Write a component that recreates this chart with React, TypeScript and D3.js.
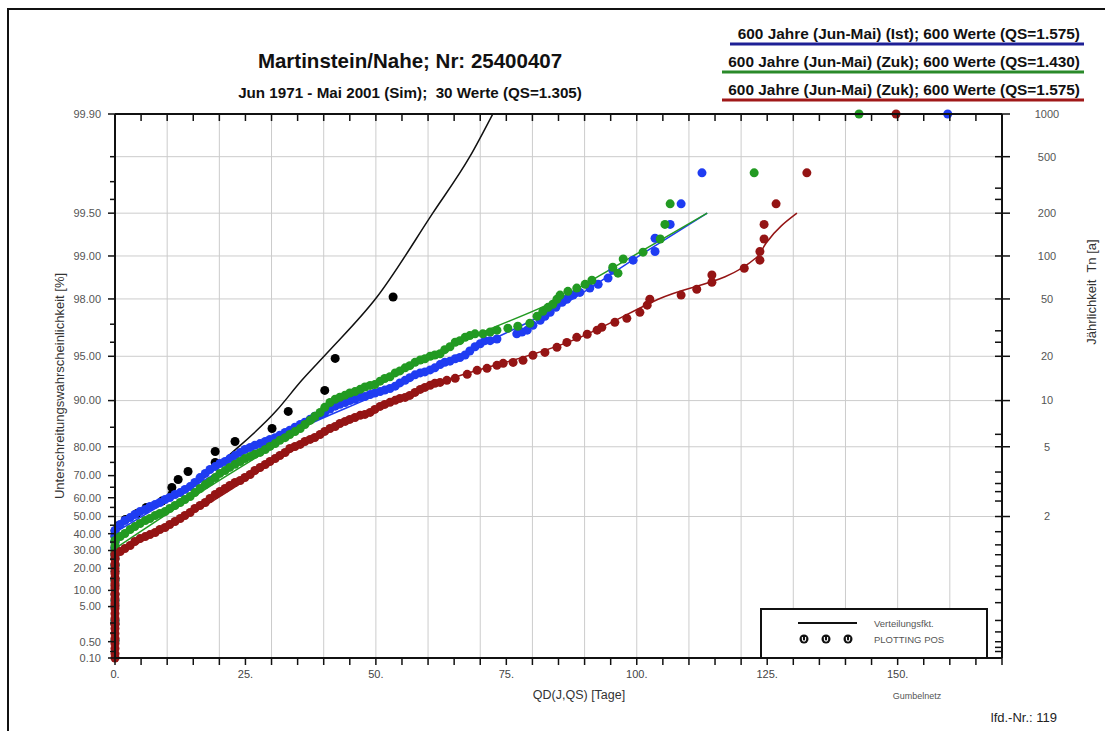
import React from "react";
import * as d3 from "d3";

// ---------------- data ----------------
const X_LABEL_TICKS = [0, 25, 50, 75, 100, 125, 150];
const LEFT_MAJOR_PCT = [99.9, 99.5, 99, 98, 95, 90, 80, 70, 60, 50, 40, 30, 20, 10, 5, 0.5, 0.1];
const LEFT_MINOR_PCT = [99.8, 99.7, 99.6, 97, 96, 85, 75, 65, 55, 45, 35, 25, 15, 2, 1, 0.2];
const RIGHT_MAJOR_T = [1000, 500, 200, 100, 50, 20, 10, 5, 2];
const RIGHT_MINOR_T = [300, 250, 30, 25, 6, 3.5, 3, 2.7, 2.4, 1.7, 1.5, 1.38, 1.27, 1.19, 1.115, 1.064, 1.024, 1.011, 1.005, 1.003, 1.002];
const GRID_T = [500, 200, 100, 50, 20, 10, 5, 2];

const TITLE = "Martinstein/Nahe; Nr: 25400407";
const SUBTITLE = "Jun 1971 - Mai 2001 (Sim);  30 Werte (QS=1.305)";
const SERIES_LABELS = [
  "600 Jahre (Jun-Mai) (Ist); 600 Werte (QS=1.575)",
  "600 Jahre (Jun-Mai) (Zuk); 600 Werte (QS=1.430)",
  "600 Jahre (Jun-Mai) (Zuk); 600 Werte (QS=1.575)",
];
const SERIES_COLORS = ["#1f3cf2", "#229a22", "#941414"];
const UNDERLINE_COLORS = ["#1e2096", "#2a8a2a", "#a01818"];

// years with QD = 0, given by their plotting position [%]
const BLUE_ZERO_PCT = [0.55, 2.31, 6.6, 14.03, 21.46, 27.06, 31.2, 35.3, 38.9, 41.9];
const GREEN_ZERO_PCT = [0.55, 2.31, 6.6, 14.03, 21.46, 27.06, 30.0, 32.9, 35.9];
const RED_ZERO_PCT = [0.1, 0.16, 0.27, 0.43, 0.66, 0.97, 1.39, 1.93, 2.63, 3.5, 4.54, 5.78, 7.22, 8.85, 10.7, 12.75, 14.96, 17.35, 19.89, 22.55, 25.34, 27.64];

// [QD days, Unterschreitungswahrscheinlichkeit %]
const BLUE_POINTS = [
  [1.0, 45.4], [1.9, 47.7], [2.9, 49.4], [3.8, 51.1], [4.8, 52.8], [5.8, 53.9], [6.7, 55.5], [7.7, 56.6], [8.6, 57.6], [9.6, 59.1],
  [10.5, 60.1], [11.5, 61.6], [12.5, 62.5], [13.4, 64.0], [14.4, 65.3], [15.3, 67.1], [16.3, 69.2], [17.3, 70.9], [18.2, 72.4], [19.2, 73.5],
  [20.1, 74.6], [21.1, 75.3], [22.0, 76.3], [23.0, 77.3], [24.0, 78.3], [24.9, 79.2], [25.9, 79.8], [26.8, 80.4], [27.8, 80.9], [28.8, 81.5],
  [29.7, 82.0], [30.7, 82.5], [31.6, 83.1], [32.6, 83.8], [33.5, 84.3], [34.5, 85.0], [35.5, 85.6], [36.4, 86.1], [37.4, 86.7], [38.3, 87.3],
  [39.3, 87.6], [40.2, 88.0], [41.2, 88.6], [42.2, 89.1], [43.1, 89.4], [44.1, 89.7], [45.0, 90.0], [46.0, 90.2], [47.0, 90.5], [47.9, 90.6],
  [48.9, 90.9], [49.8, 91.1], [50.8, 91.3], [51.7, 91.5], [52.7, 91.7], [53.7, 92.0], [54.6, 92.4], [55.6, 92.7], [56.5, 93.0], [57.5, 93.3],
  [58.5, 93.5], [59.4, 93.6], [60.4, 93.8], [61.3, 94.0], [62.3, 94.3], [63.2, 94.5], [64.2, 94.6], [65.2, 94.8], [66.1, 94.9], [67.1, 95.1],
  [68.0, 95.4], [69.0, 95.7], [70.0, 95.9], [70.9, 96.1], [71.9, 96.1], [73.2, 96.2], [77.0, 96.5], [78.0, 96.6], [79.0, 96.7], [80.1, 96.95],
  [81.5, 97.18], [82.4, 97.36], [83.4, 97.52], [84.5, 97.71], [85.7, 97.89], [86.6, 97.99], [87.8, 98.12], [89.1, 98.2], [91.0, 98.32], [92.6, 98.42],
  [94.5, 98.57], [95.4, 98.74], [99.3, 98.93], [103.5, 99.07], [103.5, 99.25], [106.4, 99.4], [108.5, 99.57], [112.5, 99.74], [159.6, 99.93],
];
const GREEN_POINTS = [
  [1.0, 38.3], [1.9, 40.1], [2.9, 42.5], [3.8, 44.2], [4.8, 46.0], [5.8, 47.7], [6.7, 48.9], [7.7, 50.6], [8.6, 51.7], [9.6, 52.8],
  [10.5, 54.4], [11.5, 56.0], [12.5, 57.6], [13.4, 59.1], [14.4, 60.6], [15.3, 62.5], [16.3, 64.4], [17.3, 66.2], [18.2, 67.5], [19.2, 69.2],
  [20.1, 70.9], [21.1, 72.0], [22.0, 73.2], [23.0, 74.3], [24.0, 75.3], [24.9, 76.3], [25.9, 77.0], [26.8, 77.7], [27.8, 78.3], [28.8, 79.2],
  [29.7, 80.1], [30.7, 80.9], [31.6, 81.8], [32.6, 82.5], [33.5, 83.3], [34.5, 84.0], [35.5, 84.7], [36.4, 85.6], [37.4, 86.5], [38.3, 87.3],
  [39.3, 88.0], [40.2, 88.9], [41.2, 89.7], [42.2, 90.2], [43.1, 90.5], [44.1, 90.8], [45.0, 91.1], [46.0, 91.3], [47.0, 91.6], [47.9, 91.9],
  [48.9, 92.1], [49.8, 92.2], [50.8, 92.6], [51.7, 92.9], [52.7, 93.1], [53.7, 93.5], [54.6, 93.7], [55.6, 94.0], [56.5, 94.2], [57.5, 94.5],
  [58.5, 94.7], [59.4, 94.8], [60.4, 95.0], [61.3, 95.1], [62.3, 95.2], [63.2, 95.5], [64.2, 95.7], [65.2, 96.0], [66.1, 96.1], [67.1, 96.3],
  [68.0, 96.4], [69.0, 96.5], [70.5, 96.5], [71.9, 96.6], [73.2, 96.7], [75.3, 96.8], [77.2, 96.9], [79.5, 97.04], [80.9, 97.36], [82.0, 97.56],
  [83.0, 97.71], [83.9, 97.82], [84.7, 97.99], [85.3, 98.12], [86.8, 98.23], [88.5, 98.32], [90.1, 98.42], [91.4, 98.52], [95.4, 98.8], [96.4, 98.68],
  [97.4, 98.95], [101.2, 99.06], [104.5, 99.24], [105.4, 99.4], [106.4, 99.57], [122.5, 99.74], [142.6, 99.93],
];
const RED_POINTS = [
  [1.0, 29.37], [1.9, 31.14], [2.9, 32.92], [3.8, 35.3], [4.8, 37.09], [5.8, 38.28], [6.7, 39.48], [7.7, 40.69], [8.6, 42.48], [9.6, 43.65],
  [10.5, 45.4], [11.5, 47.13], [12.5, 48.85], [13.4, 50.57], [14.4, 52.23], [15.3, 54.41], [16.3, 56.03], [17.3, 57.58], [18.2, 59.61], [19.2, 61.58],
  [20.1, 63.01], [21.1, 64.41], [22.0, 65.8], [23.0, 67.11], [24.0, 67.98], [24.9, 69.23], [25.9, 70.46], [26.8, 72.04], [27.8, 73.16], [28.8, 74.25],
  [29.7, 75.32], [30.7, 76.34], [31.6, 77.34], [32.6, 78.28], [33.5, 79.5], [34.5, 80.09], [35.5, 80.67], [36.4, 81.49], [37.4, 82.03], [38.3, 82.54],
  [39.3, 83.3], [40.2, 84.04], [41.2, 84.73], [42.2, 85.18], [43.1, 85.83], [44.1, 86.26], [45.0, 86.67], [46.0, 87.06], [47.0, 87.46], [47.9, 87.64],
  [48.9, 88.01], [49.8, 88.55], [50.8, 89.06], [51.7, 89.39], [52.7, 89.72], [53.7, 90.04], [54.6, 90.33], [55.6, 90.48], [56.5, 90.77], [57.5, 91.19],
  [58.5, 91.59], [59.4, 91.85], [60.4, 92.11], [61.3, 92.35], [62.3, 92.46], [63.6, 92.7], [65.2, 92.92], [67.5, 93.35], [69.4, 93.76], [71.3, 93.95],
  [73.2, 94.23], [74.4, 94.41], [76.3, 94.49], [78.2, 94.67], [80.1, 95.08], [82.4, 95.3], [84.7, 95.66], [86.6, 95.99], [88.5, 96.3], [90.5, 96.48],
  [92.4, 96.7], [93.3, 96.85], [95.8, 97.09], [98.1, 97.27], [100.6, 97.52], [102.0, 97.79], [102.5, 97.99], [108.5, 98.12], [111.5, 98.29], [114.4, 98.47],
  [114.4, 98.64], [120.6, 98.78], [123.6, 98.93], [123.6, 99.07], [124.4, 99.24], [124.4, 99.4], [126.7, 99.57], [132.6, 99.74], [149.7, 99.93],
];
// simulated series 1971-2001, 30 values
const SIM_POINTS = [
  [0, 1.86], [0, 5.18], [0, 8.5], [0, 11.82], [0, 15.14], [0, 18.46], [0, 21.78], [0, 25.1], [0, 28.42], [0, 31.74],
  [0, 35.06], [0, 38.38], [0, 41.7], [0.8, 45.02], [2.0, 48.34], [4.2, 51.66], [6.0, 54.98], [9.0, 58.3], [10.9, 61.62],
  [10.9, 64.88], [12.1, 68.4], [14.0, 71.65], [19.2, 74.96], [19.2, 78.6], [23.0, 81.49], [30.1, 84.73], [33.2, 88.2],
  [40.2, 91.46], [42.2, 94.83], [53.3, 98.06],
];
// distribution functions
const SIM_FIT = [[16.3, 67.5], [20.3, 74.96], [31.0, 88.38], [35.8, 92.7], [40.6, 95.23], [50.2, 98.06], [60.9, 99.5], [68.0, 99.8], [72.4, 99.9]];
const BLUE_FIT = [[0, 40.69], [16.3, 67.11], [35.5, 84.73], [50.8, 91.05], [70.0, 95.8], [86.6, 97.89], [100.6, 99.01], [113.5, 99.5]];
const GREEN_FIT = [[0, 31.14], [16.3, 62.53], [35.5, 84.28], [50.8, 92.58], [70.0, 96.53], [84.7, 97.96], [96.8, 98.87], [113.5, 99.5]];
const RED_FIT = [[0, 27.06], [16.3, 54.41], [35.5, 80.09], [50.8, 89.06], [59.0, 91.72], [89.1, 96.3], [104.1, 97.99], [123.0, 98.98], [124.8, 99.19], [130.7, 99.5]];

const FONT = "'Liberation Sans', Arial, Helvetica, sans-serif";

export default function App() {
  const W = 1105;
  const H = 731;
  const L = 115, R = 1002, T = 114, B = 658;

  const x = d3.scaleLinear().domain([0, 170]).range([L, R]);
  const gum = (p: number) => -Math.log(-Math.log(p));
  const yR = d3.scaleLinear().domain([gum(0.001), gum(0.999)]).range([B, T]).clamp(true);
  const yP = (pct: number) => yR(gum(Math.min(Math.max(pct, 1e-6), 99.99999) / 100));
  const yT = (t: number) => yP(100 * (1 - 1 / t));

  const line = d3
    .line<number[]>()
    .x((d) => x(d[0]))
    .y((d) => yP(d[1]))
    .curve(d3.curveMonotoneX);

  const xTicks5 = d3.range(0, 171, 5);
  const xGrid = d3.range(10, 170, 10);

  const series = [
    { zeros: BLUE_ZERO_PCT, pts: BLUE_POINTS, fit: BLUE_FIT, color: SERIES_COLORS[0] },
    { zeros: GREEN_ZERO_PCT, pts: GREEN_POINTS, fit: GREEN_FIT, color: SERIES_COLORS[1] },
    { zeros: RED_ZERO_PCT, pts: RED_POINTS, fit: RED_FIT, color: SERIES_COLORS[2] },
  ];

  const legendLineY = [44, 72, 100];
  const legendTextY = [39, 67, 95];
  const underlineX0 = [730, 722, 722];
  const pre = { whiteSpace: "pre" as const };

  return (
    <svg
      width={W}
      height={H}
      style={{ position: "absolute", left: 0, top: 0, display: "block", background: "#fff" }}
      fontFamily={FONT}
    >
      <rect x={0} y={0} width={W} height={H} fill="#fff" />
      {/* outer frame */}
      <rect x={8} y={9} width={1120} height={740} fill="none" stroke="#111" strokeWidth={2} />

      {/* titles */}
      <text x={410} y={68} textAnchor="middle" fontSize={20.5} fontWeight="bold" fill="#111">
        {TITLE}
      </text>
      <text x={410} y={98} textAnchor="middle" fontSize={15.2} fontWeight="bold" fill="#111" style={pre}>
        {SUBTITLE}
      </text>
      {SERIES_LABELS.map((s, i) => (
        <g key={s + i}>
          <text x={1080} y={legendTextY[i]} textAnchor="end" fontSize={15.4} fontWeight="bold" fill="#111">
            {s}
          </text>
          <line x1={underlineX0[i]} x2={1084} y1={legendLineY[i]} y2={legendLineY[i]} stroke={UNDERLINE_COLORS[i]} strokeWidth={3} />
        </g>
      ))}

      {/* grid */}
      <g stroke="#cccccc" strokeWidth={1}>
        {xGrid.map((v) => (
          <line key={"gx" + v} x1={x(v)} x2={x(v)} y1={T} y2={B} />
        ))}
        {GRID_T.map((t) => (
          <line key={"gy" + t} x1={L} x2={R} y1={yT(t)} y2={yT(t)} />
        ))}
      </g>

      {/* legend box */}
      <rect x={761} y={609} width={226} height={49} fill="#fff" stroke="#111" strokeWidth={2} />
      <line x1={798} x2={857} y1={623} y2={623} stroke="#111" strokeWidth={2} />
      <text x={874} y={627} fontSize={9.5} fill="#555">Verteilungsfkt.</text>
      {[804, 826, 848].map((cx) => (
        <g key={"pp" + cx}>
          <circle cx={cx} cy={639} r={4.5} fill="#111" />
          <path d={`M${cx - 1.6},${637} L${cx - 1.6},${639.5} A1.6,1.6 0 0 0 ${cx + 1.6},${639.5} L${cx + 1.6},${637}`} fill="none" stroke="#fff" strokeWidth={1.1} />
        </g>
      ))}
      <text x={874} y={643} fontSize={9.5} fill="#555">PLOTTING POS</text>

      <defs>
        <clipPath id="plotClip">
          <rect x={L - 6} y={T - 6} width={R - L + 12} height={B - T + 12} />
        </clipPath>
      </defs>

      <g clipPath="url(#plotClip)">
        {/* simulation points (drawn first) */}
        {SIM_POINTS.map((d, i) => (
          <circle key={"s" + i} cx={x(d[0])} cy={yP(d[1])} r={4.5} fill="#000" />
        ))}
        <path d={line(SIM_FIT) || ""} fill="none" stroke="#111" strokeWidth={1.5} />
        {series.map((s, si) => (
          <path key={"fit" + si} d={line(s.fit) || ""} fill="none" stroke={s.color} strokeWidth={1.5} />
        ))}
        {series.map((s, si) => (
          <g key={"pts" + si} fill={s.color}>
            {s.zeros.map((p, i) => (
              <circle key={"z" + i} cx={x(0)} cy={yP(p)} r={4.5} />
            ))}
            {s.pts.map((d, i) => (
              <circle key={"p" + i} cx={x(d[0])} cy={yP(d[1])} r={4.5} />
            ))}
          </g>
        ))}
      </g>

      {/* axes frame */}
      <g stroke="#111" strokeWidth={2} fill="none">
        <line x1={L} x2={R} y1={T} y2={T} />
        <line x1={L} x2={R} y1={B} y2={B} />
        <line x1={L} x2={L} y1={T} y2={B} />
        <line x1={R} x2={R} y1={T} y2={B} />
      </g>

      {/* x ticks top & bottom */}
      <g stroke="#111" strokeWidth={1.5}>
        {xTicks5.map((v) => (
          <g key={"xt" + v}>
            <line x1={x(v)} x2={x(v)} y1={T} y2={T + 7} />
            <line x1={x(v)} x2={x(v)} y1={B} y2={B + 7} />
          </g>
        ))}
      </g>
      {X_LABEL_TICKS.map((v) => (
        <text key={"xl" + v} x={x(v)} y={678} textAnchor="middle" fontSize={11} fill="#444">
          {v + "."}
        </text>
      ))}

      {/* left ticks */}
      <g stroke="#111" strokeWidth={1.5}>
        {LEFT_MAJOR_PCT.map((p) => (
          <line key={"lm" + p} x1={L - 7} x2={L} y1={yP(p)} y2={yP(p)} />
        ))}
        {LEFT_MINOR_PCT.map((p) => (
          <line key={"ln" + p} x1={L - 5} x2={L} y1={yP(p)} y2={yP(p)} />
        ))}
      </g>
      {LEFT_MAJOR_PCT.map((p) => (
        <text key={"ll" + p} x={101} y={yP(p)} dy="0.35em" textAnchor="end" fontSize={11} fill="#555">
          {p.toFixed(2)}
        </text>
      ))}

      {/* right ticks */}
      <g stroke="#111" strokeWidth={1.5}>
        {RIGHT_MAJOR_T.map((t) => (
          <line key={"rm" + t} x1={R - 7} x2={R + 8} y1={yT(t)} y2={yT(t)} />
        ))}
        {RIGHT_MINOR_T.map((t) => (
          <line key={"rn" + t} x1={R - 7} x2={R} y1={yT(t)} y2={yT(t)} />
        ))}
      </g>
      {RIGHT_MAJOR_T.map((t) => (
        <text key={"rl" + t} x={1047} y={yT(t)} dy="0.35em" textAnchor="middle" fontSize={11} fill="#555">
          {String(t)}
        </text>
      ))}

      {/* axis titles */}
      <text x={579} y={699} textAnchor="middle" fontSize={12.5} fill="#333">
        QD(J,QS) [Tage]
      </text>
      <text x={917} y={699} textAnchor="middle" fontSize={9} fill="#555">
        Gumbelnetz
      </text>
      <text x={1057} y={722} textAnchor="end" fontSize={13} fill="#222">
        lfd.-Nr.: 119
      </text>
      <text transform="translate(64,386) rotate(-90)" textAnchor="middle" fontSize={13} fill="#333">
        Unterschreitungswahrscheinlichkeit [%]
      </text>
      <text transform="translate(1096,292) rotate(-90)" textAnchor="middle" fontSize={13} fill="#333" style={pre}>
        Jährlichkeit  Tn [a]
      </text>
    </svg>
  );
}
